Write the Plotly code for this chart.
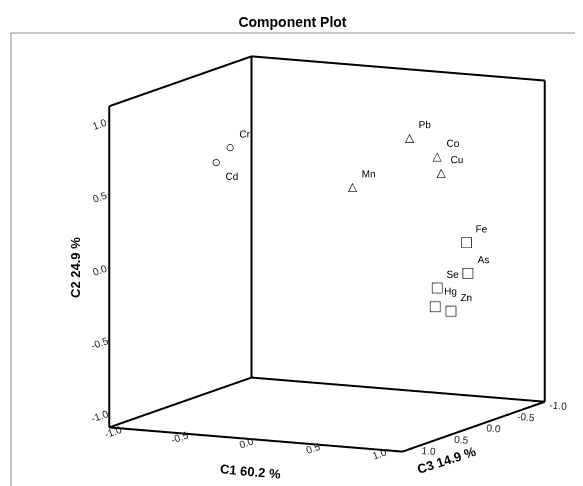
import plotly.graph_objects as go

# ---- data (component loadings) ----
elements = ["Cr", "Cd", "Mn", "Pb", "Co", "Cu", "Fe", "As", "Se", "Hg", "Zn"]
c1 = [-0.51, -0.59, 0.24, 0.57, 0.68, 0.71, 0.90, 0.91, 0.825, 0.81, 0.88]
c2 = [0.76, 0.66, 0.49, 0.82, 0.67, 0.56, 0.10, -0.11, -0.17, -0.30, -0.34]
c3 = [0.45, 0.50, 0.10, -0.10, -0.30, -0.30, -0.30, -0.30, 0.00, 0.00, -0.10]
groups = ["circle", "circle", "triangle", "triangle", "triangle", "triangle",
          "square", "square", "square", "square", "square"]
label_pos = ["top right", "bottom right"] + ["top right"] * 9

tick_vals = [-1.0, -0.5, 0.0, 0.5, 1.0]
tick_text = ["-1.0", "-0.5", "0.0", "0.5", "1.0"]
axis_titles = {"c1": "C1 60.2 %", "c2": "C2 24.9 %", "c3": "C3 14.9 %"}
lo, hi = -1.1, 1.1

FONT = "Liberation Sans, Arial, sans-serif"
W, H = 575, 478   # page adds an 8px body margin

fig = go.Figure()

# box edges: the three back walls (C1 = lo, C3 = lo, C2 = lo)
ex, ey, ez = [], [], []
def seg(p, q):
    ex.extend([p[0], q[0], None]); ey.extend([p[1], q[1], None]); ez.extend([p[2], q[2], None])
# plotly x = C3, y = C1, z = C2
seg((hi, lo, lo), (hi, lo, hi))   # front-left vertical
seg((lo, lo, lo), (lo, lo, hi))   # back-left vertical
seg((lo, hi, lo), (lo, hi, hi))   # back-right vertical
seg((hi, lo, hi), (lo, lo, hi))   # top-left
seg((lo, lo, hi), (lo, hi, hi))   # top-back
seg((hi, lo, lo), (lo, lo, lo))   # bottom-left
seg((lo, lo, lo), (lo, hi, lo))   # bottom-back
seg((hi, lo, lo), (hi, hi, lo))   # bottom-front
seg((hi, hi, lo), (lo, hi, lo))   # bottom-right
fig.add_trace(go.Scatter3d(x=ex, y=ey, z=ez, mode="lines",
                           line=dict(color="black", width=4),
                           hoverinfo="skip", showlegend=False))

def pick(kind):
    idx = [i for i, g in enumerate(groups) if g == kind]
    return ([c3[i] for i in idx], [c1[i] for i in idx], [c2[i] for i in idx])

x, y, z = pick("circle")
fig.add_trace(go.Scatter3d(x=x, y=y, z=z, mode="markers",
                           marker=dict(symbol="circle-open", size=4, color="black"),
                           showlegend=False))
x, y, z = pick("square")
fig.add_trace(go.Scatter3d(x=x, y=y, z=z, mode="markers",
                           marker=dict(symbol="square-open", size=4.5, color="black"),
                           showlegend=False))
x, y, z = pick("triangle")
fig.add_trace(go.Scatter3d(x=x, y=y, z=z, mode="text", text=["\u25b3"] * len(x),
                           textposition="middle center",
                           textfont=dict(size=12, color="black", family="DejaVu Sans"),
                           showlegend=False))

fig.add_trace(go.Scatter3d(x=c3, y=c1, z=c2, mode="text", text=elements,
                           textposition=label_pos,
                           textfont=dict(size=10, color="black", family=FONT),
                           showlegend=False))

def axis():
    return dict(range=[lo, hi], autorange=False, tickvals=tick_vals, ticktext=tick_text,
                showgrid=False, zeroline=False, showbackground=False, showline=False,
                showspikes=False, ticks="outside", ticklen=4, tickcolor="black",
                tickfont=dict(size=11, color="#222222", family=FONT),
                title=dict(text=""))

k = 1.6
a = 1.405
fig.update_layout(
    width=W, height=H,
    margin=dict(l=0, r=0, t=0, b=0),
    paper_bgcolor="white",
    title=dict(text="<b>Component Plot</b>", x=284.5 / W, xanchor="center",
               y=1 - 14 / H, yanchor="middle", yref="container", xref="container",
               font=dict(size=14, color="black", family=FONT)),
    scene=dict(
        domain=dict(x=[61.5 / W, 1.0], y=[0.0002, 0.971]),
        xaxis=axis(),
        yaxis=axis(),
        zaxis=axis(),
        aspectmode="manual",
        aspectratio=dict(x=a, y=a, z=a),
        camera=dict(projection=dict(type="orthographic"),
                    up=dict(x=0, y=0, z=1), center=dict(x=0, y=0, z=0),
                    eye=dict(x=0.886 * k, y=0.430 * k, z=0.170 * k)),
        dragmode=False,
    ),
    shapes=[dict(type="rect", xref="paper", yref="paper",
                 x0=3 / W, x1=1.05, y0=-0.05, y1=1 - 25 / H,
                 line=dict(color="#8c8c8c", width=1), fillcolor="rgba(0,0,0,0)")],
    annotations=[
        dict(text="<b>" + axis_titles["c1"] + "</b>", xref="paper", yref="paper",
             x=242 / W, y=1 - 463 / H, xanchor="center", yanchor="middle",
             showarrow=False, textangle=5,
             font=dict(size=13, color="black", family=FONT)),
        dict(text="<b>" + axis_titles["c3"] + "</b>", xref="paper", yref="paper",
             x=438 / W, y=1 - 452 / H, xanchor="center", yanchor="middle",
             showarrow=False, textangle=-18,
             font=dict(size=13, color="black", family=FONT)),
        dict(text="<b>" + axis_titles["c2"] + "</b>", xref="paper", yref="paper",
             x=67 / W, y=1 - 260 / H, xanchor="center", yanchor="middle",
             showarrow=False, textangle=-90,
             font=dict(size=13, color="black", family=FONT)),
    ],
)

fig.write_html("out.html")
